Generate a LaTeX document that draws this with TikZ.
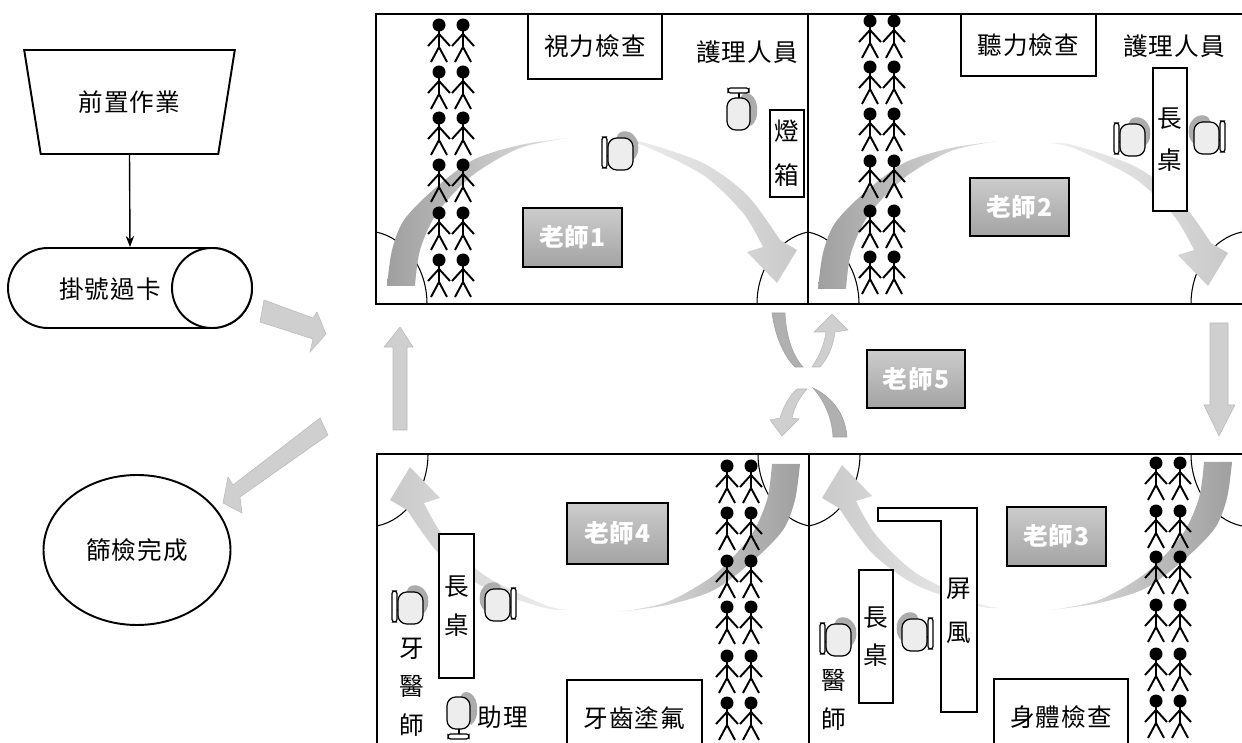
\documentclass[tikz,border=0pt]{standalone}
\usepackage{fontspec}
\setmainfont[LetterSpace=4]{Noto Sans CJK TC}
\usepackage{xcolor}
\usetikzlibrary{calc,arrows.meta,positioning,shapes.geometric,shapes.misc}
\tikzset{
  wh/.style 2 args={minimum width=#1*0.02cm, minimum height=#2*0.02cm, inner sep=0pt},
  frame/.style={draw=black, line width=1.3pt},
  lab/.style={text=black, font=\fontsize{14}{15}\selectfont, align=center},
  flow/.style={lab, draw=black, line width=1.1pt, fill=white},
  titlebox/.style={lab, draw=black, line width=1.1pt, fill=white},
  tchr/.style={draw=black, line width=1.3pt, top color=gray!40, bottom color=gray!72,
    text=white, font=\fontsize{14}{15}\selectfont\bfseries},
  blockarrow/.style={fill=gray!38, draw=gray!55, line width=0.3pt},
  darkrib/.style={fill=gray!62, draw=gray!75, line width=0.3pt},
  inL/.style={left color=gray!75, right color=gray!22},
  inR/.style={left color=gray!22, right color=gray!75},
  outL/.style={left color=gray!12, right color=gray!42},
  outR/.style={left color=gray!42, right color=gray!12},
  pics/person/.style={code={
    \fill (0,0) circle[radius=6.5];
    \draw[line width=1.1pt] (-11,21) -- (0,9) -- (11,21) (0,0) -- (0,22) (-8,37) -- (0,22) -- (8,37);
  }},
  pics/staff/.style={code={
    \fill[gray!65] (-3,-17) .. controls (-2,-25) and (14,-26) .. (18,-11) .. controls (19,-4) and (18,2) .. (13,6) -- (6,0) -- cycle;
    \draw[fill=gray!14, line width=0.7pt, rounded corners=5pt] (-12,-16) rectangle (13,16);
    \draw[line width=0.7pt] (-16,2) -- (-12,2);
    \draw[fill=white, line width=0.7pt, rounded corners=1.5pt] (-18,-17) rectangle (-13,14);
  }},
  pics/staffv/.style={code={
    \fill[gray!65] (2,-17) .. controls (4,-24) and (16,-22) .. (18,-8) .. controls (19,2) and (17,8) .. (12,12) -- (6,0) -- cycle;
    \draw[fill=gray!14, line width=0.7pt, rounded corners=5pt] (-12,-16) rectangle (11,16);
    \draw[line width=0.7pt] (0,#1*16) -- (0,#1*21);
    \draw[fill=white, line width=0.7pt, rounded corners=1.5pt] (-11,#1*21) rectangle (10,#1*26);
  }},
  pics/arcin/.style={code={
    \shade[#1] plot[smooth] coordinates {(387,286) (392,250) (404,220) (433,190) (473,160) (520,145) (568,138)}
      -- plot[smooth] coordinates {(568,138) (520,148) (473,175) (437,213) (420,250) (415,286)} -- cycle;
  }},
  pics/arcout/.style={code={
    \shade[#1] plot[smooth] coordinates {(616,140) (642,142) (703,163) (747,195) (780,240)}
      -- (797,250) -- (777,283) -- (747,252) -- (763,247)
      -- plot[smooth] coordinates {(763,247) (743,213) (703,175) (642,145) (616,140)} -- cycle;
  }},
  pics/corner/.style={code={
    \draw[line width=0.6pt] (0,-72) .. controls (29,-66) and (51,-36) .. (51,0);
  }},
}

\begin{document}
\begin{tikzpicture}[x=0.02cm, y=-0.02cm]
\useasboundingbox (0,0) rectangle (1242,743);
\clip (0,0) rectangle (1242,743);

% rooms
\draw[frame] (376,14) rectangle (808,304);
\draw[frame] (808,14) -- (1242,14) (808,304) -- (1242,304);
\draw[frame] (377,760) -- (377,454) -- (1242,454) (809,454) -- (809,760);

% door corners
\pic at (376,304) {corner};
\pic[xscale=-1] at (808,304) {corner};
\pic at (808,304) {corner};
\pic[xscale=-1] at (1242,304) {corner};
\pic[yscale=-1] at (377,454) {corner};
\pic[scale=-1] at (809,454) {corner};
\pic[yscale=-1] at (809,454) {corner};
\pic[scale=-1] at (1242,454) {corner};

% curved walkways
\pic at (0,0) {arcin=inL};
\pic at (0,0) {arcout=outL};
\pic at (431,3) {arcin=inL};
\pic at (431,3) {arcout=outL};
\pic[rotate=180] at (1187,750) {arcin=inR};
\pic[rotate=180] at (1187,750) {arcout=outR};
\pic[rotate=180] at (1619,748) {arcin=inR};
\pic[rotate=180] at (1619,748) {arcout=outR};

% queues
\foreach \x in {439,463} \foreach \y in {25,72,118,165,213,260} \pic at (\x,\y) {person};
\foreach \x in {870,894} \foreach \y in {21,67,114,161,211,257} \pic at (\x,\y) {person};
\foreach \x in {727,751} \foreach \y in {466,513,561,607,656,703} \pic at (\x,\y) {person};
\foreach \x in {1156,1180} \foreach \y in {463,511,557,605,654,701} \pic at (\x,\y) {person};

% flow chart
\node[flow, trapezium, shape border rotate=180, trapezium angle=67.5, trapezium stretches=true, wh={211}{104}] (prep) at (129.5,102) {前置作業};
\node[flow, rounded rectangle, wh={244}{80}] (regist) at (130,288) {};
\node[flow, circle, wh={80}{80}] (registcap) at (212,288) {};
\node[lab] (registtxt) at (110,289) {掛號過卡};
\node[flow, ellipse, wh={187}{150}] (finish) at (137,550) {篩檢完成};
\draw[line width=0.8pt, -{Stealth[length=2.2mm]}] (prep.south) -- (regist.north);

% block arrows
\draw[blockarrow] (264,300) -- (313,318) -- (317,312) -- (326,334) -- (310,352) -- (313,339) -- (260,322) -- cycle;
\draw[blockarrow] (393,430) -- (393,347) -- (384,347) -- (400,327) -- (413,347) -- (407,347) -- (407,430) -- cycle;
\draw[blockarrow] (320,418) -- (328,435) -- (240,497) -- (242,513) -- (223,503) -- (228,477) -- (233,485) -- cycle;
\draw[blockarrow] (1210,323) -- (1228,323) -- (1228,405) -- (1235,405) -- (1219,436) -- (1204,405) -- (1210,405) -- cycle;

% crossing
\draw[darkrib] (772,313) -- (785,313) .. controls (786,335) and (792,355) .. (803,367) -- (795,367) .. controls (783,355) and (775,335) .. (772,313) -- cycle;
\draw[darkrib] (813,388) .. controls (828,395) and (845,410) .. (847,437) -- (833,437) .. controls (832,415) and (822,398) .. (813,388) -- cycle;
\draw[blockarrow] (812,367) .. controls (820,355) and (824,345) .. (826,332) -- (814,332) -- (832,314) -- (848,330) -- (835,332) .. controls (833,347) and (828,358) .. (820,367) -- cycle;
\draw[blockarrow] (807,389) .. controls (800,397) and (795,405) .. (792,418) -- (799,419) -- (782,436) -- (770,420) -- (780,418) .. controls (784,405) and (790,395) .. (797,389) -- cycle;

% vision room
\node[titlebox, wh={134}{65}] (vision) at (595,46.5) {視力檢查};
\node[lab] (nurseA) at (747,52) {護理人員};
\node[titlebox, wh={34}{87}] (lightbox) at (787,153.5) {燈\\[10pt]箱};
\node[tchr, wh={99}{59}] (tchrA) at (572.5,237.5) {老師1};
\pic at (620,154) {staff};
\pic at (739,114) {staffv=-1};

% hearing room
\node[titlebox, wh={135}{62}] (hearing) at (1028.5,45) {聽力檢查};
\node[lab] (nurseB) at (1174,46) {護理人員};
\node[titlebox, wh={34}{143}] (tableB) at (1170,139.5) {長\\[9pt]桌};
\node[tchr, wh={99}{58}] (tchrB) at (1019.5,207) {老師2};
\pic at (1132,140) {staff};
\pic[xscale=-1] at (1207,138) {staff};

% body check room
\node[titlebox, wh={134}{76}] (body) at (1061,717) {身體檢查};
\node[tchr, wh={99}{59}] (tchrC) at (1056.5,536.5) {老師3};
\node[titlebox, wh={34}{133}] (tableC) at (876,636.5) {長\\[7pt]桌};
\draw[line width=1.1pt, fill=white] (878,508) -- (977,508) -- (977,712) -- (941,712) -- (941,521) -- (878,521) -- cycle;
\node[lab] (screen) at (959,611) {屏\\[10pt]風};
\node[lab] (doctorC) at (834,700) {醫\\[7pt]師};
\pic at (838,640) {staff};
\pic[xscale=-1] at (915,635) {staff};

% dental room
\node[titlebox, wh={135}{76}] (dental) at (634.5,718) {牙齒塗氟};
\node[tchr, wh={101}{61}] (tchrD) at (617.5,533.5) {老師4};
\node[titlebox, wh={35}{144}] (tableD) at (456.5,606) {長\\[7pt]桌};
\node[lab] (dentist) at (412,687) {牙\\[7pt]醫\\[7pt]師};
\node[lab] (helper) at (503,717) {助理};
\pic at (410,608) {staff};
\pic[xscale=-1] at (498,605) {staff};
\pic at (459,713) {staffv=1};

% middle teacher
\node[tchr, wh={98}{58}] (tchrE) at (916,379) {老師5};
\end{tikzpicture}
\end{document}
